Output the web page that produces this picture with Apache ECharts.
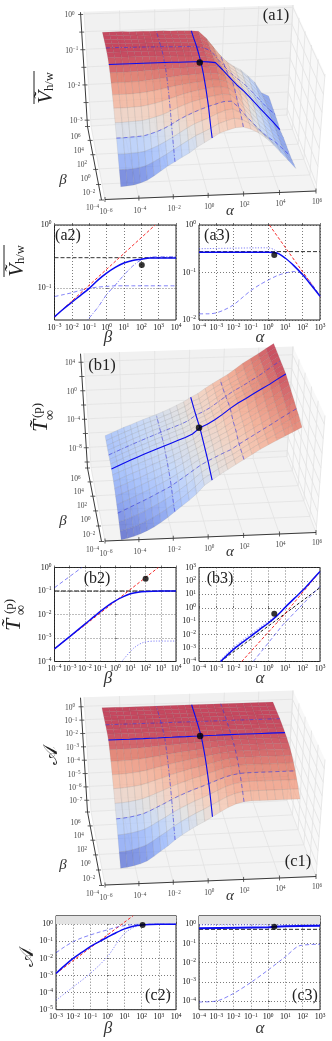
<!DOCTYPE html>
<html><head><meta charset="utf-8">
<style>html,body{margin:0;padding:0;background:#fff}#c{width:332px;height:1041px}</style>
<script src="https://cdn.jsdelivr.net/npm/echarts@6/dist/echarts.min.js"></script></head>
<body><div id="c"></div>
<script>
// Surface tables: log10 of the plotted value, rows = beta (front to back), columns = alpha (left to right)
const a1Z=[
[-2.84,-2.83,-2.81,-2.76,-2.69,-2.58,-2.45,-2.32,-2.21,-2.09,-1.98,-1.83,-1.71,-1.59,-1.46,-1.39,-1.33,-1.32,-1.39,-1.50,-1.66,-1.85,-2.08,-2.30,-2.53],
[-2.50,-2.50,-2.49,-2.47,-2.42,-2.33,-2.23,-2.12,-2.00,-1.88,-1.76,-1.64,-1.55,-1.45,-1.33,-1.26,-1.20,-1.24,-1.36,-1.52,-1.71,-1.90,-2.12,-2.33,-2.55],
[-2.20,-2.20,-2.19,-2.18,-2.15,-2.08,-2.00,-1.90,-1.79,-1.67,-1.55,-1.44,-1.36,-1.28,-1.18,-1.10,-1.07,-1.18,-1.37,-1.57,-1.78,-1.97,-2.15,-2.35,-2.57],
[-1.88,-1.88,-1.87,-1.86,-1.85,-1.80,-1.74,-1.66,-1.56,-1.44,-1.34,-1.25,-1.17,-1.10,-1.04,-.98,-.98,-1.16,-1.41,-1.63,-1.85,-2.03,-2.18,-2.38,-2.58],
[-1.58,-1.58,-1.57,-1.56,-1.55,-1.51,-1.46,-1.40,-1.32,-1.23,-1.15,-1.08,-1.03,-.98,-.93,-.90,-.92,-1.10,-1.35,-1.59,-1.81,-2.00,-2.19,-2.38,-2.58],
[-1.30,-1.30,-1.30,-1.29,-1.28,-1.25,-1.21,-1.16,-1.10,-1.04,-.98,-.93,-.89,-.86,-.82,-.82,-.87,-1.05,-1.32,-1.56,-1.78,-1.98,-2.18,-2.38,-2.58],
[-1.05,-1.05,-1.05,-1.04,-1.03,-1.01,-.98,-.95,-.91,-.87,-.84,-.81,-.79,-.77,-.74,-.75,-.82,-1.0,-1.26,-1.50,-1.74,-1.95,-2.17,-2.38,-2.58],
[-.84,-.84,-.84,-.83,-.83,-.81,-.79,-.77,-.75,-.73,-.71,-.70,-.69,-.68,-.68,-.70,-.80,-.98,-1.22,-1.46,-1.70,-1.93,-2.16,-2.37,-2.58],
[-.68,-.68,-.68,-.67,-.67,-.66,-.65,-.64,-.64,-.63,-.63,-.62,-.62,-.62,-.62,-.61,-.78,-1.00,-1.25,-1.46,-1.69,-1.92,-2.15,-2.37,-2.60],
[-.57,-.57,-.57,-.57,-.57,-.57,-.57,-.57,-.57,-.57,-.58,-.58,-.58,-.58,-.60,-.63,-.84,-1.07,-1.29,-1.48,-1.70,-1.93,-2.16,-2.38,-2.62],
[-.50,-.50,-.50,-.50,-.50,-.50,-.50,-.51,-.51,-.52,-.52,-.53,-.54,-.55,-.58,-.64,-.86,-1.10,-1.32,-1.51,-1.71,-1.94,-2.17,-2.38,-2.58],
[-.47,-.47,-.47,-.47,-.47,-.47,-.48,-.48,-.49,-.50,-.51,-.51,-.52,-.53,-.57,-.65,-.89,-1.12,-1.34,-1.52,-1.71,-1.94,-2.17,-2.38,-2.57],
[-.46,-.46,-.46,-.47,-.47,-.47,-.48,-.48,-.48,-.49,-.50,-.50,-.51,-.52,-.56,-.66,-.91,-1.14,-1.36,-1.53,-1.71,-1.93,-2.16,-2.38,-2.56],
[-.46,-.46,-.46,-.47,-.47,-.48,-.48,-.48,-.49,-.49,-.50,-.51,-.51,-.52,-.55,-.66,-.91,-1.15,-1.37,-1.53,-1.70,-1.91,-2.14,-2.38,-2.55],
[-.46,-.46,-.47,-.47,-.48,-.48,-.48,-.49,-.49,-.50,-.50,-.51,-.52,-.53,-.55,-.66,-.92,-1.16,-1.38,-1.53,-1.69,-1.89,-2.12,-2.39,-2.54],
[-.47,-.47,-.47,-.48,-.48,-.48,-.49,-.49,-.50,-.50,-.51,-.51,-.52,-.53,-.55,-.67,-.93,-1.18,-1.39,-1.54,-1.68,-1.87,-2.10,-2.40,-2.53],
[-.48,-.48,-.48,-.48,-.49,-.49,-.49,-.50,-.50,-.50,-.51,-.51,-.52,-.53,-.55,-.74,-1.00,-1.25,-1.45,-1.60,-1.72,-1.90,-2.10,-2.42,-2.53]];
const b1Z=[
[-10.76,-10.6,-10.35,-10.05,-9.65,-9.2,-8.6,-7.95,-7.2,-6.45,-5.7,-4.85,-3.75,-3.05,-2.35,-1.7,-1.05,-.4,.25,.9,1.5,2.05,2.6,3.15,3.7],
[-10.2,-10,-9.75,-9.4,-9,-8.55,-8.05,-7.45,-6.8,-6.1,-5.35,-4.5,-3.5,-2.85,-2.2,-1.6,-1,-.33,.32,.97,1.6,2.2,2.8,3.35,3.95],
[-9.6,-9.35,-9,-8.65,-8.25,-7.8,-7.3,-6.8,-6.2,-5.55,-4.85,-4.05,-3.2,-2.6,-2,-1.45,-.95,-.27,.38,1.03,1.67,2.3,2.95,3.55,4.2],
[-9.03,-8.65,-8.25,-7.85,-7.45,-7.02,-6.55,-6.1,-5.6,-4.95,-4.3,-3.6,-2.9,-2.35,-1.85,-1.35,-.9,-.2,.45,1.1,1.75,2.4,3.1,3.75,4.4],
[-8.5,-8.15,-7.8,-7.4,-7,-6.6,-6.15,-5.7,-5.2,-4.65,-4.05,-3.4,-2.75,-2.2,-1.65,-1.1,-.6,0,.65,1.3,1.95,2.6,3.25,3.95,4.65],
[-8,-7.65,-7.3,-6.95,-6.55,-6.15,-5.75,-5.3,-4.85,-4.35,-3.8,-3.2,-2.6,-2.05,-1.45,-.85,-.3,.3,.95,1.6,2.25,2.9,3.5,4.15,4.85],
[-7.55,-7.2,-6.85,-6.5,-6.15,-5.75,-5.35,-4.95,-4.55,-4.1,-3.6,-3,-2.5,-1.9,-1.4,-.85,-.3,.4,1.05,1.65,2.3,3,3.6,4.35,5.05],
[-7.2,-6.85,-6.5,-6.15,-5.8,-5.45,-5.05,-4.7,-4.3,-3.9,-3.45,-2.95,-2.45,-1.75,-1.3,-.85,-.2,.5,1.15,1.75,2.45,3.15,3.8,4.5,5.25],
[-6.9,-6.55,-6.2,-5.85,-5.5,-5.15,-4.8,-4.45,-4.1,-3.75,-3.35,-2.9,-2.4,-1.6,-1.2,-.68,.05,.8,1.45,2.1,2.8,3.45,4.1,4.75,5.45],
[-6.67,-6.3,-5.93,-5.56,-5.2,-4.85,-4.5,-4.15,-3.8,-3.45,-3.1,-2.75,-2.3,-1.47,-1.02,-.43,.29,1.09,1.81,2.4,3.05,3.7,4.3,5,5.64],
[-6.6,-6.23,-5.86,-5.5,-5.15,-4.8,-4.45,-4.1,-3.75,-3.4,-3.05,-2.7,-2.25,-1.47,-1.02,-.43,.29,1.09,1.81,2.38,3.03,3.68,4.3,5.05,5.7],
[-6.56,-6.2,-5.84,-5.48,-5.12,-4.77,-4.42,-4.07,-3.72,-3.37,-3.02,-2.67,-2.2,-1.47,-1.05,-.45,.27,1.05,1.77,2.33,2.98,3.63,4.3,5.1,5.75],
[-6.54,-6.18,-5.82,-5.46,-5.1,-4.75,-4.4,-4.05,-3.7,-3.35,-3,-2.65,-2.2,-1.47,-1.05,-.48,.25,1,1.72,2.28,2.93,3.58,4.3,5.1,5.8],
[-6.5,-6.14,-5.78,-5.42,-5.06,-4.71,-4.36,-4.01,-3.66,-3.31,-2.96,-2.58,-2.15,-1.45,-1.08,-.45,.25,.98,1.65,2.23,2.88,3.58,4.35,5.15,5.85],
[-6.42,-6.06,-5.7,-5.34,-4.98,-4.64,-4.3,-3.96,-3.62,-3.27,-2.9,-2.5,-2.1,-1.4,-1.05,-.35,.35,1,1.6,2.2,2.9,3.65,4.45,5.2,5.9],
[-6.32,-5.96,-5.6,-5.25,-4.9,-4.56,-4.22,-3.9,-3.58,-3.22,-2.85,-2.45,-2,-1.35,-.95,-.2,.45,1.05,1.65,2.3,3,3.8,4.5,5.25,5.95],
[-6.2,-5.85,-5.5,-5.15,-4.85,-4.5,-4.18,-3.85,-3.55,-3.18,-2.8,-2.35,-1.9,-1.3,-.8,-.1,.55,1.15,1.75,2.5,3.3,3.95,4.6,5.3,6]];
const c1Z=[
[-6.7,-6.65,-6.56,-6.43,-6.24,-5.92,-5.56,-5.2,-4.78,-4.42,-4.1,-3.78,-3.51,-3.19,-2.87,-2.55,-2.32,-2.19,-2.14,-2.14,-2.14,-2.14,-2.14,-2.14,-2.14],
[-5.85,-5.81,-5.73,-5.6,-5.44,-5.15,-4.82,-4.5,-4.13,-3.8,-3.51,-3.23,-2.98,-2.69,-2.41,-2.12,-1.91,-1.79,-1.75,-1.75,-1.75,-1.75,-1.75,-1.75,-1.75],
[-4.95,-4.91,-4.84,-4.74,-4.6,-4.35,-4.06,-3.78,-3.46,-3.18,-2.93,-2.68,-2.47,-2.22,-1.97,-1.72,-1.54,-1.44,-1.4,-1.4,-1.4,-1.4,-1.4,-1.4,-1.4],
[-4.1,-4.07,-4.01,-3.92,-3.8,-3.59,-3.35,-3.11,-2.84,-2.6,-2.38,-2.17,-1.99,-1.78,-1.57,-1.36,-1.21,-1.12,-1.09,-1.09,-1.09,-1.09,-1.09,-1.09,-1.09],
[-3.3,-3.28,-3.23,-3.15,-3.05,-2.88,-2.68,-2.48,-2.26,-2.06,-1.89,-1.71,-1.56,-1.39,-1.22,-1.04,-.92,-.84,-.82,-.82,-.82,-.82,-.82,-.82,-.82],
[-2.55,-2.53,-2.49,-2.43,-2.36,-2.22,-2.06,-1.91,-1.73,-1.58,-1.44,-1.3,-1.19,-1.05,-.91,-.78,-.68,-.62,-.6,-.6,-.6,-.6,-.6,-.6,-.6],
[-1.85,-1.84,-1.81,-1.77,-1.71,-1.61,-1.5,-1.38,-1.26,-1.15,-1.05,-.95,-.86,-.76,-.67,-.57,-.5,-.45,-.44,-.44,-.44,-.44,-.44,-.44,-.44],
[-1.2,-1.19,-1.17,-1.15,-1.11,-1.05,-.98,-.91,-.83,-.76,-.7,-.64,-.58,-.52,-.46,-.4,-.36,-.33,-.32,-.32,-.32,-.32,-.32,-.32,-.32],
[-.65,-.65,-.64,-.63,-.61,-.58,-.55,-.51,-.48,-.45,-.42,-.39,-.36,-.33,-.31,-.28,-.26,-.24,-.24,-.24,-.24,-.24,-.24,-.24,-.24],
[-.25,-.25,-.25,-.25,-.24,-.24,-.23,-.23,-.22,-.22,-.21,-.21,-.2,-.2,-.19,-.19,-.18,-.18,-.18,-.18,-.18,-.18,-.18,-.18,-.18],
[-.13,-.13,-.13,-.13,-.13,-.13,-.13,-.13,-.13,-.13,-.13,-.13,-.13,-.13,-.13,-.13,-.13,-.13,-.13,-.13,-.13,-.13,-.13,-.13,-.13],
[-.09,-.09,-.09,-.09,-.09,-.09,-.09,-.09,-.09,-.09,-.09,-.09,-.09,-.09,-.09,-.09,-.09,-.09,-.09,-.09,-.09,-.09,-.09,-.09,-.09],
[-.06,-.06,-.06,-.06,-.06,-.06,-.06,-.06,-.06,-.06,-.06,-.06,-.06,-.06,-.06,-.06,-.06,-.06,-.06,-.06,-.06,-.06,-.06,-.06,-.06],
[-.04,-.04,-.04,-.04,-.04,-.04,-.04,-.04,-.04,-.04,-.04,-.04,-.04,-.04,-.04,-.04,-.04,-.04,-.04,-.04,-.04,-.04,-.04,-.04,-.04],
[-.03,-.03,-.03,-.03,-.03,-.03,-.03,-.03,-.03,-.03,-.03,-.03,-.03,-.03,-.03,-.03,-.03,-.03,-.03,-.03,-.03,-.03,-.03,-.03,-.03],
[-.02,-.02,-.02,-.02,-.02,-.02,-.02,-.02,-.02,-.02,-.02,-.02,-.02,-.02,-.02,-.02,-.02,-.02,-.02,-.02,-.02,-.02,-.02,-.02,-.02],
[-.01,-.01,-.01,-.01,-.01,-.01,-.01,-.01,-.01,-.01,-.01,-.01,-.01,-.01,-.01,-.01,-.01,-.01,-.01,-.01,-.01,-.01,-.01,-.01,-.01]];

// 2D panel curves, as [log10 x], [log10 y]
const betaHalf=[-3,-2.5,-2,-1.5,-1,-.5,0,.5,1,1.5,2,2.5,3,4];
const a2Solid=[-1.45,-1.33,-1.22,-1.11,-1,-.87,-.76,-.67,-.6,-.56,-.54,-.52,-.52,-.52];
const a2Dash=[-1.13,-1.10,-1.07,-1.03,-1,-.98,-.97,-.96,-.96,-.96,-.96,-.96,-.96,-.96];
const a2DotX=[-1.1,-.5,0,.5,1,1.5,2,2.5,3,4];
const a2DotY=[-1.5,-1.3,-1.1,-.95,-.79,-.65,-.55,-.51,-.5,-.5];
const a2RedX=[-3,2.8], a2RedY=[-1.45,0];
const a2BlackY=-.516;
const a2Point=[2.03,-.63];

const a3SolidX=[-4,0,.5,1,1.5,2,2.5,3];
const a3SolidY=[-.575,-.575,-.59,-.7,-.86,-1.05,-1.27,-1.5];
const a3DotX=[-4,0,.4,.8];
const a3DotY=[-.5,-.48,-.53,-.65];
const a3DashX=[-4,-3.5,-3,-2.5,-2,-1.5,-1,-.5,0,.5,1,1.5,2,2.5,3];
const a3DashY=[-1.87,-1.87,-1.85,-1.78,-1.68,-1.53,-1.38,-1.26,-1.16,-1.07,-1.01,-.98,-1.03,-1.23,-1.5];
const a3RedX=[.07,3], a3RedY=[0,-1.5];
const a3BlackY=-.56;
const a3Point=[.355,-.63];

const b2SolidX=[-4,-3,-2,-1,-.5,0,.5,1,1.5,2,3,4];
const b2SolidY=[-3.46,-2.94,-2.41,-1.88,-1.63,-1.42,-1.25,-1.12,-1.05,-1.02,-1,-1];
const b2DashX=[-4,-2.2], b2DashY=[-.86,0];
const b2DotX=[.43,1.2,1.85,2.7,4], b2DotY=[-4,-3.44,-3.19,-3.13,-3.13];
const b2RedX=[-4,2.84], b2RedY=[-3.46,0];
const b2BlackY=-1;
const b2Point=[2,-.48];

const b3SolidX=[-2.75,-2,-1.5,-1,-.5,0,.5,1,1.5,2,2.5,3];
const b3SolidY=[-4,-3.1,-2.6,-2.12,-1.62,-1.15,-.6,.05,.68,1.3,2,2.7];
const b3DotX=[-2.75,-2,-1,0,.5], b3DotY=[-3.95,-2.95,-1.98,-1.05,-.6];
const b3BlackX=[-2.75,3], b3BlackY=[-4,1.5];
const b3RedX=[-1.53,.87,3], b3RedY=[-4,-.6,2.7];
const b3DashX=[-.86,.87,3], b3DashY=[-4,-1.24,1.6];
const b3Point=[.355,-.45];

const c2SolidY=[-2.88,-2.42,-2,-1.65,-1.31,-1.03,-.76,-.5,-.27,-.12,-.04,-.01,0,0];
const c2DashY=[-1.67,-1.32,-1.02,-.8,-.63,-.47,-.33,-.18,-.08,-.02,0,0,0,0];
const c2DotX=[-3,-2,-1,0,1,2,3,4], c2DotY=[-4.45,-3.67,-2.88,-1.9,-.53,-.04,0,0];
const c2RedX=[-3,1.5], c2RedY=[-2.88,.5];
const c2Point=[2.05,-.04];

const c3SolidX=[-4,0,.4,1,3], c3SolidY=[-.2,-.15,-.12,-.1,-.08];
const c3DashX=[-4,-3,-2,-1,0,1,1.84,3], c3DashY=[-4.05,-4,-3.6,-3.03,-2.38,-1.69,-1.11,-1.04];
const c3DotX=[-4,3], c3DotY=[-.03,-.03];
const c3BlackY=-.26;
const c3Point=[.355,-.12];

// 3D axis tick exponents
const alphaTicks3D=[-6,-4,-2,0,2,4,6];
const betaTicks3D=[-4,-2,0,2,4,6];

const BLUE='#0a0af0', FADE='rgba(30,30,240,.55)', RED='#f62a2a', INK='#222';
const FF='"Liberation Serif","DejaVu Serif",serif';

// ---- perspective frame of the 3D boxes ----
function homography(p){
  const [x0,y0]=p[0],[x1,y1]=p[1],[x2,y2]=p[2],[x3,y3]=p[3];
  const dx1=x1-x2,dx2=x3-x2,sx=x0-x1+x2-x3,dy1=y1-y2,dy2=y3-y2,sy=y0-y1+y2-y3;
  const den=dx1*dy2-dx2*dy1, g=(sx*dy2-dx2*sy)/den, h=(dx1*sy-sx*dy1)/den;
  const a=x1-x0+g*x1,b=x3-x0+h*x3,d=y1-y0+g*y1,e=y3-y0+h*y3;
  return (u,v)=>{const q=g*u+h*v+1;return [(a*u+b*v+x0)/q,(d*u+e*v+y0)/q];};
}
const floorH=homography([[105,199.5],[316,191],[287,115],[91,126]]);
const topH=homography([[98.3,83],[325,74],[293,5],[84,11.7]]);
function project(p,u,v,w){
  const f=floorH(u,v),t=topH(u,v);
  return [f[0]+(t[0]-f[0])*w, f[1]+(t[1]-f[1])*w+p.dy];
}
const U0=.08,U1=.9,V1=.97;
const uOf=i=>U0+(U1-U0)*i/24-.017*Math.sin(Math.PI*i/24), vOf=j=>V1*j/16;
const panels=[
 {table:a1Z,dy:0,zMin:-3.18,zMax:.065,zTicks:[0,-.5,-1,-1.5,-2,-2.5,-3],zLab:[0,-1,-2,-3],title:'(a1)',tx:276,ty:16,dotDrop:.01},
 {table:b1Z,dy:341.5,zMin:-10.84,zMax:5.2,zTicks:[4,2,0,-2,-4,-6,-8,-10],zLab:[4,0,-4,-8],title:'(b1)',tx:102,ty:366,dotDrop:0},
 {table:c1Z,dy:685.5,zMin:-7.88,zMax:.68,zTicks:[0,-1,-2,-3,-4,-5,-6,-7],zLab:[0,-1,-2,-3,-4,-5,-6,-7],title:'(c1)',tx:298,ty:862,dotDrop:0}
];
const stops=[[59,76,192],[98,130,234],[141,176,254],[182,206,250],[221,220,220],[245,196,172],[244,154,123],[220,93,74],[180,4,38]];
function cool(t){t=Math.max(0,Math.min(1,t))*8;const k=Math.min(7,Math.floor(t)),f=t-k,a=stops[k],b=stops[k+1];
  return 'rgba('+[0,1,2].map(n=>Math.round(a[n]+(b[n]-a[n])*f)).join(',')+',.72)';}

const series=[];
const HID=6;
const pxAxis={xAxisIndex:HID,yAxisIndex:HID};
function polySeries(items){
  series.push(Object.assign({type:'custom',silent:true,clip:false,coordinateSystem:'cartesian2d',
    data:items.map((_,n)=>[n,0]),encode:{x:0,y:1},
    renderItem:(params,api)=>{
      const it=items[params.dataIndex];
      const pts=it.pts.map(q=>api.coord(q));
      return {type:it.fill?'polygon':'polyline',shape:{points:pts},
        style:{fill:it.fill||null,stroke:it.stroke||null,lineWidth:it.lw||.5}};
    }},pxAxis));
}
function pxLine(pts,color,width,dash){
  series.push(Object.assign({type:'line',data:pts,symbol:'none',silent:true,clip:false,smooth:false,
    lineStyle:{color,width,type:dash||'solid'},z:3},pxAxis));
}
const gfx=[];
function label(text,x,y,size,fill,align,rot,italic,extra){
  gfx.push({type:'text',x,y,rotation:rot||0,z:20,silent:true,style:Object.assign({text,fill:fill||INK,align:align||'center',verticalAlign:'middle',
    font:(italic?'italic ':'')+size+'px '+FF},extra||{})});
}
const expRich=(size,col)=>({
  b:{fontFamily:FF,fontSize:size,fill:col,color:col,lineHeight:size+1},
  e:{fontFamily:FF,fontSize:size*.68,fill:col,color:col,verticalAlign:'top',lineHeight:size+1}});
const exp=v=>'{b|10}{e|'+(v<0?'\u2212'+(-v):v)+'}';

panels.forEach(p=>{
  const W=z=>(z-p.zMin)/(p.zMax-p.zMin);
  const walls=[];
  const q=(u,v,w)=>project(p,u,v,w);
  walls.push({pts:[q(0,0,0),q(1,0,0),q(1,1,0),q(0,1,0)],fill:'#f3f3f3'});
  walls.push({pts:[q(0,1,0),q(1,1,0),q(1,1,1),q(0,1,1)],fill:'#f1f1f1'});
  walls.push({pts:[q(1,0,0),q(1,1,0),q(1,1,1),q(1,0,1)],fill:'#f8f8f8'});
  const gc='#e2e2e2';
  for(let k=0;k<=6;k++){const u=k/6;
    walls.push({pts:[q(u,0,0),q(u,1,0),q(u,1,1)],stroke:gc,lw:.8});}
  for(let k=0;k<=5;k++){const v=k/5;
    walls.push({pts:[q(0,v,0),q(1,v,0),q(1,v,1)],stroke:gc,lw:.8});}
  p.zTicks.forEach(z=>{const w=W(z);walls.push({pts:[q(0,1,w),q(1,1,w),q(1,0,w)],stroke:gc,lw:.8});});
  polySeries(walls);

  // surface
  const T=p.table; let lo=1e9,hi=-1e9; T.forEach(r=>r.forEach(z=>{lo=Math.min(lo,z);hi=Math.max(hi,z);}));
  const cells=[];
  for(let j=15;j>=0;j--)for(let i=0;i<24;i++){
    const zs=[T[j][i],T[j][i+1],T[j+1][i+1],T[j+1][i]];
    const m=(zs[0]+zs[1]+zs[2]+zs[3])/4;
    cells.push({pts:[q(uOf(i),vOf(j),W(zs[0])),q(uOf(i+1),vOf(j),W(zs[1])),q(uOf(i+1),vOf(j+1),W(zs[2])),q(uOf(i),vOf(j+1),W(zs[3]))],
      fill:cool((m-lo)/(hi-lo)),stroke:'rgba(110,110,110,.22)',lw:.5});
  }
  polySeries(cells);
  // slices along the mesh lines
  const row=j=>T[j].map((z,i)=>q(uOf(i),vOf(j),W(z)));
  const col=i=>T.map((r,j)=>q(uOf(i),vOf(j),W(r[i])));
  pxLine(row(12),FADE,.9,[4,2,1,2]);
  pxLine(col(8),FADE,.9,[4,2,1,2]);
  pxLine(row(3),FADE,.9,[4,3]);
  pxLine(col(17),FADE,.9,[4,3]);
  pxLine(row(9),BLUE,1.1);
  pxLine(col(13),BLUE,1.1);
  series.push(Object.assign({type:'scatter',symbolSize:6.5,silent:true,clip:false,z:4,itemStyle:{color:'#000'},
    data:[q(uOf(13)-.004,vOf(9),W(T[9][13])-p.dotDrop)]},pxAxis));

  // axes
  const ink='#3a3a3a',off=[-3.5,.5];
  const ox=a=>[a[0]+off[0],a[1]+off[1]];
  const axes=[{pts:[q(0,0,0),q(1,0,0)],stroke:ink,lw:1},
    {pts:[ox(q(0,0,0)),ox(q(0,1,0))],stroke:ink,lw:1},
    {pts:[ox(q(0,1,0)),ox(q(0,1,1))],stroke:ink,lw:1}];
  alphaTicks3D.forEach((a,k)=>{const t=q(k/6,0,0);
    axes.push({pts:[[t[0],t[1]-2.5],[t[0],t[1]+2.5]],stroke:ink,lw:.8});
    label(exp(a),t[0]+1,t[1]+11+(6-k)*.3,7.5,'#444','center',0,false,{rich:expRich(7.5,'#444')});});
  betaTicks3D.forEach((b,k)=>{const t=ox(q(0,k/5,0));
    axes.push({pts:[[t[0]-2.5,t[1]],[t[0]+2.5,t[1]]],stroke:ink,lw:.8});
    label(exp(b),t[0]-12+(5-k)*.6,t[1]+8.5+k*.5,7.5,'#444','center',0,false,{rich:expRich(7.5,'#444')});});
  p.zTicks.forEach(z=>{const t=ox(q(0,1,W(z)));
    axes.push({pts:[[t[0]-2.5,t[1]],[t[0]+2.5,t[1]]],stroke:ink,lw:.8});});
  p.zLab.forEach(z=>{const t=ox(q(0,1,W(z)));
    label(exp(z),t[0]-11,t[1]+1,7.5,'#444','center',0,false,{rich:expRich(7.5,'#444')});});
  polySeries(axes);
  label(p.title,p.tx,p.ty,16.5,'#222');
  label('\u03b1',230,211+p.dy,15,'#333','center',0,true);
  label('\u03b2',63,180+p.dy,15,'#333','center',0,true);
});

// ---- 2D panels ----
const grids=[[54.5,225,121.5,95],[199,225,121,95],[54.5,567.5,121.5,94],[199,567.5,121,94],[56,915.7,120,94],[199,915.7,121,94]];
const xRange=[[-3,4],[-4,3],[-4,4],[-4,3],[-3,4],[-4,3]];
const yRange=[[-1.5,0],[-2,0],[-4,0],[-4,3],[-5,.5],[-4.45,.45]];
const xTicks=[[-3,-2,-1,0,1,2,3,4],[-4,-3,-2,-1,0,1,2,3],[-4,-3,-2,-1,0,1,2,3,4],[-4,-3,-2,-1,0,1,2,3],[-3,-2,-1,0,1,2,3,4],[-4,-3,-2,-1,0,1,2,3]];
const yTicks=[[-1,0],[-2,-1,0],[-4,-3,-2,-1,0],[-4,-3,-2,-1,0,1,2,3],[-5,-4,-3,-2,-1,0],[-4,-3,-2,-1,0]];
const xAxes=[],yAxes=[];
const tickRich=expRich(8,'#111');
const fmt=v=>exp(Math.round(v));
grids.forEach((g,n)=>{
  const mk=(r,tv)=>({type:'value',min:r[0],max:r[1],gridIndex:n,
    axisLine:{show:false},
    axisTick:{show:true,inside:true,length:2,lineStyle:{color:'#222',width:.6},customValues:tv},
    splitLine:{show:true,lineStyle:{color:'#444',width:.7,type:[1,2]}},
    axisLabel:{customValues:tv,formatter:fmt,rich:tickRich,margin:3,hideOverlap:false,showMinLabel:true,showMaxLabel:true}});
  xAxes.push(mk(xRange[n],xTicks[n]));
  yAxes.push(mk(yRange[n],yTicks[n]));
});
const gridOpt=grids.map(g=>({left:g[0],top:g[1],width:g[2],height:g[3],show:true,borderColor:'#222',borderWidth:1,backgroundColor:'transparent'}));
gridOpt.push({left:0,top:0,width:332,height:1041,show:false});
xAxes.push({type:'value',gridIndex:6,min:0,max:332,show:false});
yAxes.push({type:'value',gridIndex:6,min:0,max:1041,inverse:true,show:false});

const zip=(x,y)=>x.map((v,k)=>[v,y[k]]);
function curve(n,x,y,color,width,dash,smooth){
  series.push({type:'line',xAxisIndex:n,yAxisIndex:n,data:zip(x,y),symbol:'none',silent:true,smooth:smooth===undefined?.3:smooth,
    lineStyle:{color,width,type:dash||'solid'},z:3});
}
function hline(n,y,color,dash){const r=xRange[n];curve(n,[r[0],r[1]],[y,y],color,1,dash,false);}
function dot(n,p){series.push({type:'scatter',xAxisIndex:n,yAxisIndex:n,data:[p],symbolSize:6,silent:true,itemStyle:{color:'#000'},z:5});}
const D1=[4,2.5],D2=[1,1.6,4,1.6],D3=[1.2,1.6];

hline(0,a2BlackY,'#333',[4,2]);
curve(0,a2RedX,a2RedY,RED,1,[3,2],false);
curve(0,betaHalf,a2Dash,FADE,1,D1);
curve(0,a2DotX,a2DotY,FADE,1,D2);
curve(0,betaHalf,a2Solid,BLUE,1.5);
dot(0,a2Point);

hline(1,a3BlackY,'#333',[4,2]);
curve(1,a3RedX,a3RedY,RED,1,[3,2],false);
curve(1,a3DotX,a3DotY,FADE,1,D3);
curve(1,a3DashX,a3DashY,FADE,1,D1);
curve(1,a3SolidX,a3SolidY,BLUE,1.5);
dot(1,a3Point);

hline(2,b2BlackY,'#111',[5,1.5]);
curve(2,b2RedX,b2RedY,RED,1,[3,2],false);
curve(2,b2DashX,b2DashY,FADE,1,D1,false);
curve(2,b2DotX,b2DotY,FADE,1,D3);
curve(2,b2SolidX,b2SolidY,BLUE,1.5);
dot(2,b2Point);

curve(3,b3BlackX,b3BlackY,'#222',1,[3,2],false);
curve(3,b3RedX,b3RedY,RED,1,[3,2],false);
curve(3,b3DashX,b3DashY,FADE,1,D1,false);
curve(3,b3DotX,b3DotY,'rgba(60,60,240,.4)',2,D3,false);
curve(3,b3SolidX,b3SolidY,BLUE,1.5);
dot(3,b3Point);

const shade=(n,top)=>({silent:true,itemStyle:{color:'#e3e3e3'},z:1,data:[[{yAxis:0,xAxis:xRange[n][0]},{yAxis:top,xAxis:xRange[n][1]}]]});
curve(4,c2RedX,c2RedY,RED,1,[3,2],false);
curve(4,betaHalf,c2DashY,FADE,1,D1);
curve(4,c2DotX,c2DotY,FADE,1,D3);
curve(4,betaHalf,c2SolidY,BLUE,1.5);
series[series.length-1].markArea=shade(4,.5);
dot(4,c2Point);

hline(5,c3BlackY,'#222',[4,2]);
curve(5,c3DotX,c3DotY,FADE,1,D3,false);
curve(5,c3DashX,c3DashY,FADE,1,D1);
curve(5,c3SolidX,c3SolidY,BLUE,2);
series[series.length-1].markArea=shade(5,.45);
dot(5,c3Point);

// text
[['(a2)',68,236],['(a3)',217,236],['(b2)',97,579],['(b3)',220,579],['(c2)',158,996],['(c3)',305,996]].forEach(t=>label(t[0],t[1],t[2],16,'#222'));
[['\u03b2',108,338],['\u03b1',260,338],['\u03b2',108,679],['\u03b1',260,679],['\u03b2',108,1029],['\u03b1',260,1029]].forEach(t=>label(t[0],t[1],t[2],17,'#333','center',0,true));

const PI2=Math.PI/2;
const vRich=s=>({v:{fontFamily:FF,fontStyle:'italic',fontSize:s,fill:'#222'},s:{fontFamily:FF,fontSize:s*.6,fill:'#222',verticalAlign:'bottom'}});
label('{v|\u1e7c}{s|h/w}',46,88,21,'#222','center',PI2,false,{rich:vRich(21)});
label('{v|\u1e7c}{s|h/w}',17,261,21,'#222','center',PI2,false,{rich:vRich(21)});
// T-tilde with stacked (p) and infinity scripts
[[41.5,426,38,410.5,50,415],[14,625,9.5,606.5,21.5,610]].forEach(t=>{
  label('T\u0303',t[0],t[1],22,'#222','center',PI2,true);
  label('(p)',t[2],t[3],13,'#222','center',PI2,false);
  label('\u221e',t[4],t[5],14,'#222','center',PI2,false);
});
label('\ud835\udc9c',52,755,20,'#222','center',PI2,false);
label('\ud835\udc9c',28,957,20,'#222','center',PI2,false);
gfx.push({type:'line',z:20,silent:true,shape:{x1:34,y1:71,x2:34,y2:104},style:{stroke:'#222',lineWidth:1}});
gfx.push({type:'line',z:20,silent:true,shape:{x1:4,y1:245,x2:4,y2:277},style:{stroke:'#222',lineWidth:1}});

const chart=echarts.init(document.getElementById('c'),null,{renderer:'canvas',width:332,height:1041});
chart.setOption({animation:false,backgroundColor:'#fff',grid:gridOpt,xAxis:xAxes,yAxis:yAxes,series,graphic:{elements:gfx},tooltip:{show:false}});
</script></body></html>
